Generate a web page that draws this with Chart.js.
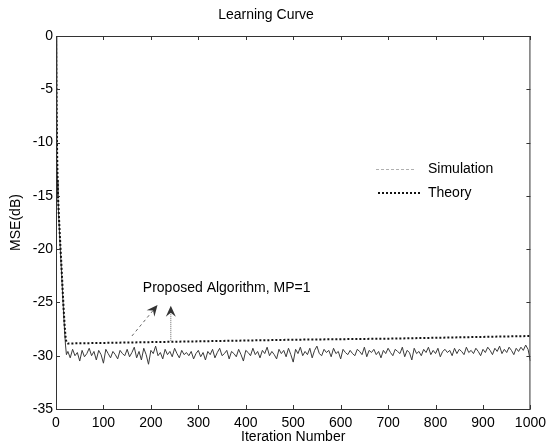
<!DOCTYPE html>
<html>
<head>
<meta charset="utf-8">
<script src="https://cdn.jsdelivr.net/npm/chart.js@4.4.1/dist/chart.umd.min.js"></script>
<style>
  body { margin: 0; background: #fff; }
  #wrap { width: 552px; height: 443px; }
</style>
</head>
<body>
<div id="wrap"><canvas id="myChart" width="552" height="443"></canvas></div>
<script>
// theory curve (iteration, MSE dB)
const theoryIter = [0, 1, 2, 3, 4, 6, 8, 10, 12, 14, 16, 18, 20, 22, 25, 100, 300, 500, 700, 1000];
const theoryMse = [0, -6, -10, -12.8, -14.8, -16.8, -18.6, -20.3, -22, -23.8, -25.5, -27, -28.2, -28.75, -28.85, -28.8, -28.65, -28.5, -28.4, -28.15];

// simulation: transient part
const simStartIter = [0, 1, 2, 3, 4, 6, 8, 10, 12, 14, 16, 18, 20, 22];
const simStartMse = [0, -7, -11, -13.5, -15.2, -17.2, -19, -20.8, -22.5, -24.3, -26, -27.6, -29.0, -29.9];

// simulation: steady state, every 5 iterations from 25 to 1000
const simFirst = 25;
const simStep = 5;
const simSteady = [
  -29.6,-30.2,-29.4,-30.0,-29.7,-30.5,-29.5,-30.1,-29.8,-29.3,
  -30.0,-29.6,-30.4,-29.5,-29.9,-30.7,-29.4,-29.8,-30.2,-29.6,
  -29.9,-30.3,-29.5,-29.8,-30.0,-29.4,-30.1,-29.7,-29.2,-30.2,
  -29.6,-30.4,-29.3,-29.9,-30.8,-29.5,-29.8,-29.1,-30.0,-29.7,
  -30.3,-29.4,-29.9,-29.6,-30.1,-29.3,-29.8,-30.2,-29.5,-29.9,
  -29.7,-30.0,-29.6,-30.3,-29.8,-29.5,-30.1,-29.7,-30.4,-29.6,
  -29.9,-29.4,-30.2,-29.7,-29.3,-30.0,-29.8,-29.5,-30.3,-29.6,
  -29.8,-30.1,-29.4,-29.9,-30.5,-29.5,-29.7,-30.0,-29.3,-29.9,
  -29.6,-30.2,-29.5,-29.8,-29.2,-30.0,-29.6,-29.9,-30.3,-29.4,
  -29.8,-29.5,-30.1,-29.3,-29.9,-30.6,-29.4,-29.8,-29.2,-30.0,
  -29.6,-29.9,-29.3,-30.2,-29.5,-29.1,-29.8,-30.0,-29.4,-29.7,
  -29.5,-30.1,-29.3,-29.8,-29.6,-30.3,-29.4,-29.7,-29.9,-29.5,
  -29.8,-30.0,-29.4,-29.6,-29.9,-29.2,-30.1,-29.5,-29.7,-29.4,
  -29.9,-29.6,-30.2,-29.5,-29.8,-29.3,-29.7,-30.0,-29.4,-29.6,
  -29.8,-29.2,-30.1,-29.5,-29.7,-30.4,-29.3,-29.8,-29.6,-30.0,
  -29.4,-29.7,-29.2,-29.9,-29.5,-29.8,-29.3,-30.1,-29.6,-29.4,
  -29.7,-29.5,-30.0,-29.3,-29.8,-29.4,-29.6,-29.9,-29.2,-29.7,
  -29.5,-29.8,-29.3,-29.6,-30.0,-29.4,-29.7,-29.2,-29.5,-29.9,
  -29.3,-29.6,-29.1,-29.8,-29.4,-29.7,-29.2,-29.5,-29.9,-29.3,
  -29.6,-29.2,-29.5,-29.0,-29.4,-30.5
];

const legendLabels = ['Simulation', 'Theory'];
const annotationText = 'Proposed Algorithm, MP=1';
const annotationAt = [183, -23.65];
// arrows: [fromIter, fromMse, toIter, toMse]
const arrows = [
  [160, -28.15, 214, -25.25],
  [242, -28.6, 242, -25.3]
];

const FONT = "'Liberation Sans', Arial, Helvetica, sans-serif";

const theoryData = theoryIter.map((x, i) => ({ x: x, y: theoryMse[i] }));
const simData = simStartIter.map((x, i) => ({ x: x, y: simStartMse[i] }));
simSteady.forEach((v, i) => simData.push({ x: simFirst + i * simStep, y: v }));

// frame, inward ticks, legend and annotation
const decorPlugin = {
  id: 'decor',
  afterDraw(chart) {
    const ctx = chart.ctx;
    const a = chart.chartArea;
    const xs = chart.scales.x, ys = chart.scales.y;
    ctx.save();
    ctx.strokeStyle = '#333';
    ctx.lineWidth = 1;
    ctx.strokeRect(a.left + 0.5, a.top + 0.5, a.right - a.left - 1, a.bottom - a.top);
    ctx.beginPath();
    xs.ticks.forEach(t => {
      const px = Math.round(xs.getPixelForValue(t.value)) + 0.5;
      ctx.moveTo(px, a.bottom); ctx.lineTo(px, a.bottom - 4);
      ctx.moveTo(px, a.top); ctx.lineTo(px, a.top + 4);
    });
    ys.ticks.forEach(t => {
      const py = Math.round(ys.getPixelForValue(t.value)) + 0.5;
      ctx.moveTo(a.left, py); ctx.lineTo(a.left + 4, py);
      ctx.moveTo(a.right, py); ctx.lineTo(a.right - 4, py);
    });
    ctx.stroke();

    // legend
    ctx.font = '14px ' + FONT;
    ctx.fillStyle = '#000';
    ctx.textBaseline = 'middle';
    ctx.textAlign = 'left';
    ctx.strokeStyle = '#b0b0b0';
    ctx.lineWidth = 1;
    ctx.setLineDash([3, 2]);
    ctx.beginPath(); ctx.moveTo(376, 169.5); ctx.lineTo(416, 169.5); ctx.stroke();
    ctx.fillText(legendLabels[0], 428, 169);
    ctx.strokeStyle = '#111';
    ctx.lineWidth = 2;
    ctx.setLineDash([2, 2]);
    ctx.beginPath(); ctx.moveTo(378, 193); ctx.lineTo(420, 193); ctx.stroke();
    ctx.fillText(legendLabels[1], 428, 193);

    // annotation
    ctx.fillText(annotationText, xs.getPixelForValue(annotationAt[0]), ys.getPixelForValue(annotationAt[1]));
    arrows.forEach((ar, k) => {
      const x0 = xs.getPixelForValue(ar[0]), y0 = ys.getPixelForValue(ar[1]);
      const x1 = xs.getPixelForValue(ar[2]), y1 = ys.getPixelForValue(ar[3]);
      const ang = Math.atan2(y1 - y0, x1 - x0);
      ctx.strokeStyle = '#666';
      ctx.lineWidth = 1;
      ctx.setLineDash(k === 0 ? [3, 3] : [1, 1]);
      ctx.beginPath(); ctx.moveTo(x0, y0); ctx.lineTo(x1 - 6 * Math.cos(ang), y1 - 6 * Math.sin(ang)); ctx.stroke();
      ctx.setLineDash([]);
      ctx.fillStyle = '#333';
      ctx.beginPath();
      ctx.moveTo(x1, y1);
      ctx.lineTo(x1 - 11 * Math.cos(ang) + 5 * Math.sin(ang), y1 - 11 * Math.sin(ang) - 5 * Math.cos(ang));
      ctx.lineTo(x1 - 7 * Math.cos(ang), y1 - 7 * Math.sin(ang));
      ctx.lineTo(x1 - 11 * Math.cos(ang) - 5 * Math.sin(ang), y1 - 11 * Math.sin(ang) + 5 * Math.cos(ang));
      ctx.closePath();
      ctx.fill();
    });
    ctx.restore();
  }
};

const ctx = document.getElementById('myChart').getContext('2d');
const myChart = new Chart(ctx, {
  type: 'line',
  data: {
    datasets: [{
      label: 'Theory',
      data: theoryData,
      borderColor: '#111',
      borderWidth: 2,
      borderDash: [2, 2],
      pointRadius: 0,
      fill: false,
      tension: 0
    }, {
      label: 'Simulation',
      data: simData,
      borderColor: '#3a3a3a',
      borderWidth: 1,
      pointRadius: 0,
      fill: false,
      tension: 0
    }]
  },
  options: {
    responsive: false,
    animation: false,
    layout: { padding: { left: 0, right: 20, top: 0, bottom: 0 } },
    plugins: {
      legend: { display: false },
      tooltip: { enabled: false },
      title: {
        display: true,
        text: 'Learning Curve',
        color: '#000',
        font: { family: FONT, size: 14, weight: 'normal' },
        padding: { top: 7, bottom: 12.2 }
      }
    },
    scales: {
      x: {
        type: 'linear',
        min: 0,
        max: 1000,
        ticks: { stepSize: 100, color: '#000', font: { family: FONT, size: 14 }, padding: 6, maxRotation: 0,
                 callback: v => String(v) },
        grid: { display: false, drawTicks: false, tickLength: 0 },
        border: { display: false },
        title: { display: true, text: 'Iteration Number', color: '#000', font: { family: FONT, size: 14 }, padding: { top: 0, bottom: -3 } },
        afterFit(s) { s.height = 34; }
      },
      y: {
        type: 'linear',
        min: -35,
        max: 0,
        ticks: { stepSize: 5, color: '#000', font: { family: FONT, size: 14 }, padding: 3 },
        grid: { display: false, drawTicks: false, tickLength: 0 },
        border: { display: false },
        title: { display: true, text: 'MSE(dB)', color: '#000', font: { family: FONT, size: 14 }, padding: { top: 8, bottom: 0 } },
        afterFit(s) { s.width = 56; }
      }
    }
  },
  plugins: [decorPlugin]
});
</script>
</body>
</html>
